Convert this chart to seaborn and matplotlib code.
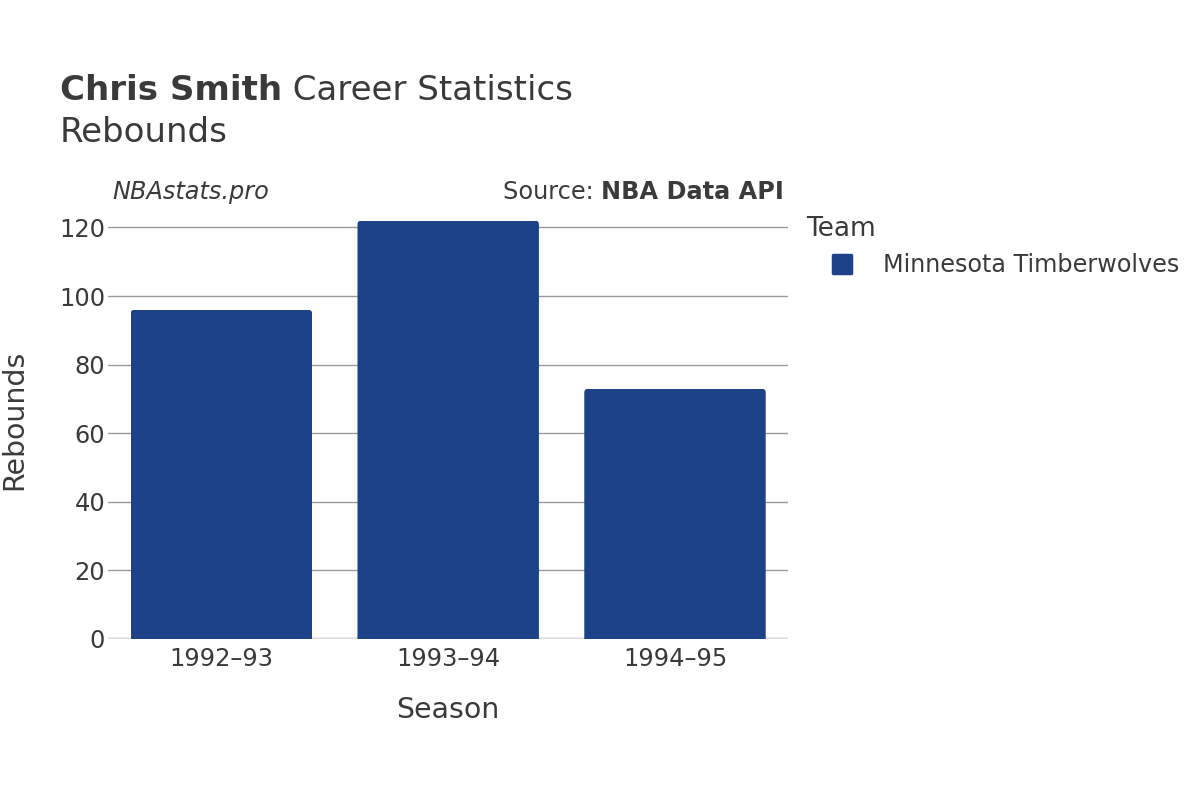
import matplotlib
matplotlib.use("Agg")
import matplotlib.pyplot as plt
import seaborn as sns
import pandas as pd
from matplotlib.patches import FancyBboxPatch
from matplotlib.lines import Line2D
from matplotlib.markers import MarkerStyle

seasons = ["1992–93", "1993–94", "1994–95"]
rebounds = [96, 122, 73]
teams = ["Minnesota Timberwolves"] * 3
team_colors = {"Minnesota Timberwolves": "#1D428A"}

df = pd.DataFrame({"Season": seasons, "Rebounds": rebounds, "Team": teams})

sns.set_theme(style="white")
plt.rcParams["font.family"] = ["DejaVu Sans"]
TXT = "#3a3a3a"

fig = plt.figure(figsize=(12, 8), dpi=100)
ax = fig.add_axes([0.09, 0.20125, 0.567, 0.54875])

sns.barplot(data=df, x="Season", y="Rebounds", hue="Team", palette=team_colors,
            width=0.8, dodge=False, saturation=1, ax=ax, legend=False)

ax.set_xlim(-0.5, 2.5)
ax.set_ylim(0, 128)
ax.set_yticks([0, 20, 40, 60, 80, 100, 120])
ax.grid(axis="y", color="#9a9a9a", linewidth=1)
ax.set_axisbelow(True)
for s in ax.spines.values():
    s.set_visible(False)
ax.axhline(0, color="#ebebeb", linewidth=3, zorder=0.5)
ax.tick_params(axis="both", length=0, labelsize=17.4, labelcolor=TXT)
ax.tick_params(axis="y", pad=2)
ax.tick_params(axis="x", pad=6)
ax.set_xlabel("Season", fontsize=20.4, color=TXT, labelpad=18)
ax.set_ylabel("Rebounds", fontsize=20.4, color=TXT, labelpad=22)

# rounded top corners
rx = 4 / 226.7
ry = 4 / 3.425
for p in list(ax.patches):
    x, y = p.get_x(), p.get_y()
    w, h = p.get_width(), p.get_height()
    if h <= 0:
        continue
    clip = FancyBboxPatch((x, y - 3 * ry), w, h + 3 * ry,
                          boxstyle=f"round,pad=0,rounding_size={rx}",
                          mutation_aspect=ry / rx, transform=ax.transData,
                          facecolor="none", edgecolor="none")
    p.set_clip_path(clip)
    p.set_edgecolor("none")

handles = [Line2D([], [], linestyle="none",
                  marker=MarkerStyle("s", joinstyle="round"),
                  markersize=13.5, markerfacecolor=team_colors[t],
                  markeredgecolor=team_colors[t], markeredgewidth=2.5)
           for t in team_colors]
labels = list(team_colors)
leg = fig.legend(handles, labels, title="Team", loc="upper left",
                 bbox_to_anchor=(0.6715, 0.7298), frameon=False,
                 fontsize=17.2, title_fontsize=19, alignment="left",
                 handlelength=3.05, handletextpad=0.17,
                 borderaxespad=0, borderpad=0, labelspacing=0.5)
leg.get_title().set_color(TXT)
for t in leg.get_texts():
    t.set_color(TXT)
leg._legend_box.sep = 8

fig.text(0.05, 0.875, "Chris Smith", fontsize=24.5, fontweight="bold", color=TXT, va="baseline")
fig.canvas.draw()
r = fig.texts[-1].get_window_extent(renderer=fig.canvas.get_renderer())
x1 = r.x1 / fig.bbox.width
fig.text(x1, 0.875, " Career Statistics", fontsize=24.5, color=TXT, va="baseline")
fig.text(0.05, 0.822, "Rebounds", fontsize=24.5, color=TXT, va="baseline")

fig.text(0.094, 0.751, "NBAstats.pro", fontsize=17.3, style="italic", color=TXT, va="baseline")
t2 = fig.text(0.6535, 0.751, "NBA Data API", fontsize=17.3, fontweight="bold", color=TXT,
              va="baseline", ha="right")
fig.canvas.draw()
r2 = t2.get_window_extent(renderer=fig.canvas.get_renderer())
fig.text(r2.x0 / fig.bbox.width, 0.751, "Source: ", fontsize=17.3, color=TXT,
         va="baseline", ha="right")

fig.savefig("out.png", dpi=100, facecolor="white")
